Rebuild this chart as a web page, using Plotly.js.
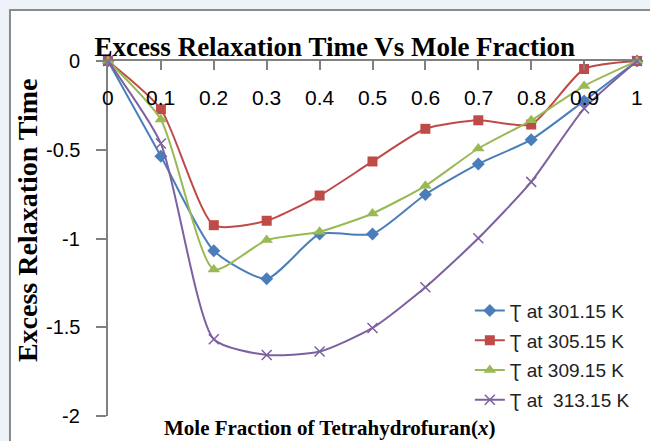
<!DOCTYPE html>
<html>
<head>
<meta charset="utf-8">
<script src="https://cdn.plot.ly/plotly-3.0.1.min.js"></script>
<style>html,body{margin:0;padding:0;background:#fff;}#chart{width:650px;height:441px;}</style>
</head>
<body>
<div id="chart"></div>
<script>
const moleFraction = [0, 0.1, 0.2, 0.3, 0.4, 0.5, 0.6, 0.7, 0.8, 0.9, 1];
const tau301 = [0, -0.536, -1.069, -1.227, -0.975, -0.975, -0.752, -0.580, -0.443, -0.225, 0];
const tau305 = [0, -0.272, -0.925, -0.900, -0.758, -0.566, -0.382, -0.334, -0.358, -0.045, 0];
const tau309 = [0, -0.330, -1.174, -1.009, -0.962, -0.859, -0.703, -0.493, -0.334, -0.141, 0];
const tau313 = [0, -0.465, -1.568, -1.656, -1.637, -1.504, -1.275, -0.999, -0.681, -0.268, 0];
const seriesNames = ["Ʈ at 301.15 K", "Ʈ at 305.15 K", "Ʈ at 309.15 K", "Ʈ at  313.15 K"];
const xTicks = [0, 0.1, 0.2, 0.3, 0.4, 0.5, 0.6, 0.7, 0.8, 0.9, 1];
const xTickText = ["0", "0.1", "0.2", "0.3", "0.4", "0.5", "0.6", "0.7", "0.8", "0.9", "1"];
const yTicks = [0, -0.5, -1, -1.5, -2];
const yTickText = ["0", "-0.5", "-1", "-1.5", "-2"];

const colors = ["#4a7ebb", "#be4b48", "#98b954", "#7d60a0"];
const symbols = ["diamond", "square", "triangle-up", "x-thin-open"];
const sizes = [10, 10, 11, 10];
const ys = [tau301, tau305, tau309, tau313];
const axisGray = "#808080";

const traces = ys.map((y, i) => ({
  x: moleFraction, y: y, name: seriesNames[i], type: "scatter", mode: "lines+markers",
  legendgroup: "g" + i,
  line: {color: colors[i], width: 2, shape: "spline", smoothing: 0.6},
  marker: {symbol: symbols[i], size: sizes[i], color: colors[i], line: {color: colors[i], width: i === 3 ? 1.5 : 0}},
  cliponaxis: false
}));

const tickFont = {family: "Liberation Sans", size: 21, color: "#000"};
const annotations = [];
xTickText.forEach((t, i) => annotations.push({
  text: t, x: xTicks[i], xref: "x", y: 0.898, yref: "paper", showarrow: false,
  xanchor: "center", yanchor: "middle", font: tickFont
}));
yTickText.forEach((t, i) => annotations.push({
  text: t, x: -0.05, xref: "paper", y: yTicks[i], yref: "y", showarrow: false,
  xanchor: "right", yanchor: "middle", font: {family: "Liberation Sans", size: 20, color: "#000"}
}));
annotations.push(
  {text: "<b>Excess Relaxation Time</b>", xref: "paper", yref: "paper", x: -0.153, y: 0.552, textangle: -90,
   showarrow: false, xanchor: "center", yanchor: "middle", font: {family: "Liberation Serif", size: 28, color: "#000"}},
  {text: "<b>Mole Fraction of Tetrahydrofuran(<i>x</i>)</b>", xref: "paper", yref: "paper", x: 0.42, y: -0.035,
   showarrow: false, xanchor: "center", yanchor: "middle", font: {family: "Liberation Serif", size: 21, color: "#000"}}
);

const layout = {
  width: 650, height: 441,
  paper_bgcolor: "#eef3fa", plot_bgcolor: "rgba(0,0,0,0)",
  margin: {l: 108, r: 13, t: 61, b: 25},
  showlegend: true,
  title: {text: "<b>Excess Relaxation Time Vs Mole Fraction</b>", font: {family: "Liberation Serif", size: 27, color: "#000"},
          x: 0.515, xanchor: "center", y: 0.895, yanchor: "middle"},
  xaxis: {range: [0, 1], side: "top", tickmode: "array", tickvals: xTicks, showticklabels: false,
          ticks: "inside", ticklen: 9, tickcolor: axisGray, tickwidth: 2, showline: true, linecolor: axisGray, linewidth: 2,
          showgrid: false, zeroline: false, fixedrange: true},
  yaxis: {range: [-2, 0], tickmode: "array", tickvals: yTicks, showticklabels: false,
          ticks: "outside", ticklen: 10, tickcolor: axisGray, tickwidth: 2, showline: true, linecolor: axisGray, linewidth: 2,
          showgrid: false, zeroline: false, fixedrange: true},
  legend: {x: 0.684, y: 0.35, xanchor: "left", yanchor: "top", bgcolor: "rgba(0,0,0,0)", borderwidth: 0,
           tracegroupgap: 2, font: {family: "Liberation Sans", size: 19, color: "#222"}},
  shapes: [
    {type: "rect", xref: "paper", yref: "paper", x0: -0.1853, x1: 1.05, y0: -0.1, y1: 1.1437,
     fillcolor: "#ffffff", line: {color: "#8a8a8a", width: 2}, layer: "below"}
  ],
  annotations: annotations
};
Plotly.newPlot("chart", traces, layout, {displayModeBar: false, staticPlot: true});
</script>
</body>
</html>
